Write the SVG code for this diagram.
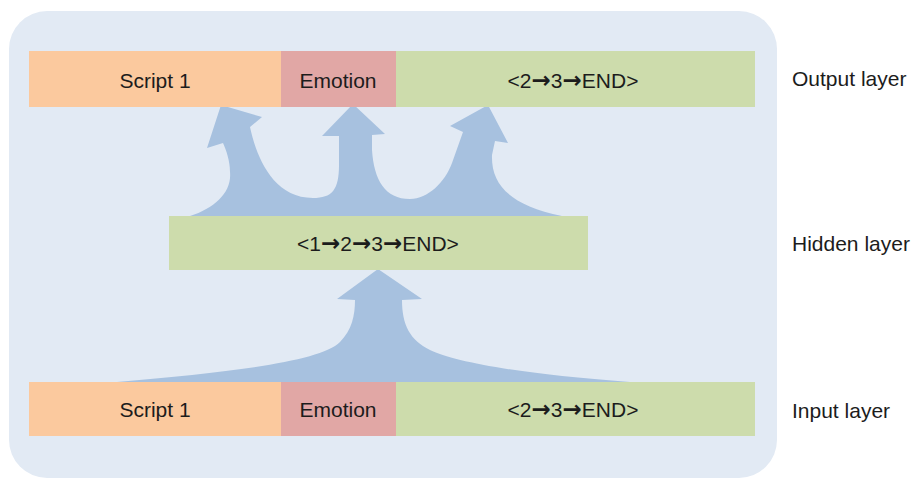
<svg xmlns="http://www.w3.org/2000/svg" width="919" height="479" viewBox="0 0 919 479">
  <style>
    .t { font-family: "Liberation Sans", Arial, sans-serif; font-size: 21px; fill: #1c1c1c; }
    .c { text-anchor: middle; }
    .ar { font-family: "DejaVu Sans", sans-serif; font-size: 23px; font-weight: bold; }
    .orange { fill: #fbc99e; }
    .red { fill: #e1a7a5; }
    .green { fill: #cddcac; }
    .flow { fill: #a7c1df; }
  </style>
  <rect width="919" height="479" fill="#ffffff"/>
  <rect id="panel" x="9" y="11" width="768" height="467" rx="38" ry="38" fill="#e2eaf4"/>

  <g id="connectors">
    <path class="flow" d="M190,216 C215,208 232,192 230,172 C230,160 226,150 223,143 L207,148 L221,105 L262,117 L250,127 C256,155 272,198 313,198 C332,198 339,190 339,165 L339,136 L322,136 L353,104 L385,134 L372,135 L372,150 C374,180 385,199 410,199 C428,199 445,182 452,163 L463,132 L450,126 L488,105 L508,143 L495,141 L492,155 C491,185 510,205 562,216 Z"/>
    <path class="flow" d="M117,382 C230,372 320,362 340,342 C352,330 355,315 355,300 L337,299 L378,269 L422,299 L402,300 C402,325 410,340 430,350 C455,362 520,374 630,382 Z"/>
  </g>

  <g id="output-script">
    <rect class="orange" x="29" y="51" width="252" height="56"/>
    <text class="t c" x="155" y="88">Script 1</text>
  </g>
  <g id="output-emotion">
    <rect class="red" x="281" y="51" width="115" height="56"/>
    <text class="t c" x="338" y="88">Emotion</text>
  </g>
  <g id="output-seq">
    <rect class="green" x="396" y="51" width="359" height="56"/>
    <text class="t c" x="573" y="88">&lt;2<tspan class="ar">→</tspan>3<tspan class="ar">→</tspan>END&gt;</text>
  </g>

  <g id="hidden">
    <rect class="green" x="169" y="216" width="419" height="54"/>
    <text class="t c" x="378" y="251">&lt;1<tspan class="ar">→</tspan>2<tspan class="ar">→</tspan>3<tspan class="ar">→</tspan>END&gt;</text>
  </g>

  <g id="input-script">
    <rect class="orange" x="29" y="382" width="252" height="54"/>
    <text class="t c" x="155" y="417">Script 1</text>
  </g>
  <g id="input-emotion">
    <rect class="red" x="281" y="382" width="115" height="54"/>
    <text class="t c" x="338" y="417">Emotion</text>
  </g>
  <g id="input-seq">
    <rect class="green" x="396" y="382" width="359" height="54"/>
    <text class="t c" x="573" y="417">&lt;2<tspan class="ar">→</tspan>3<tspan class="ar">→</tspan>END&gt;</text>
  </g>

  <g id="labels">
    <text class="t" x="792" y="86">Output layer</text>
    <text class="t" x="792" y="251">Hidden layer</text>
    <text class="t" x="792" y="418">Input layer</text>
  </g>
</svg>
